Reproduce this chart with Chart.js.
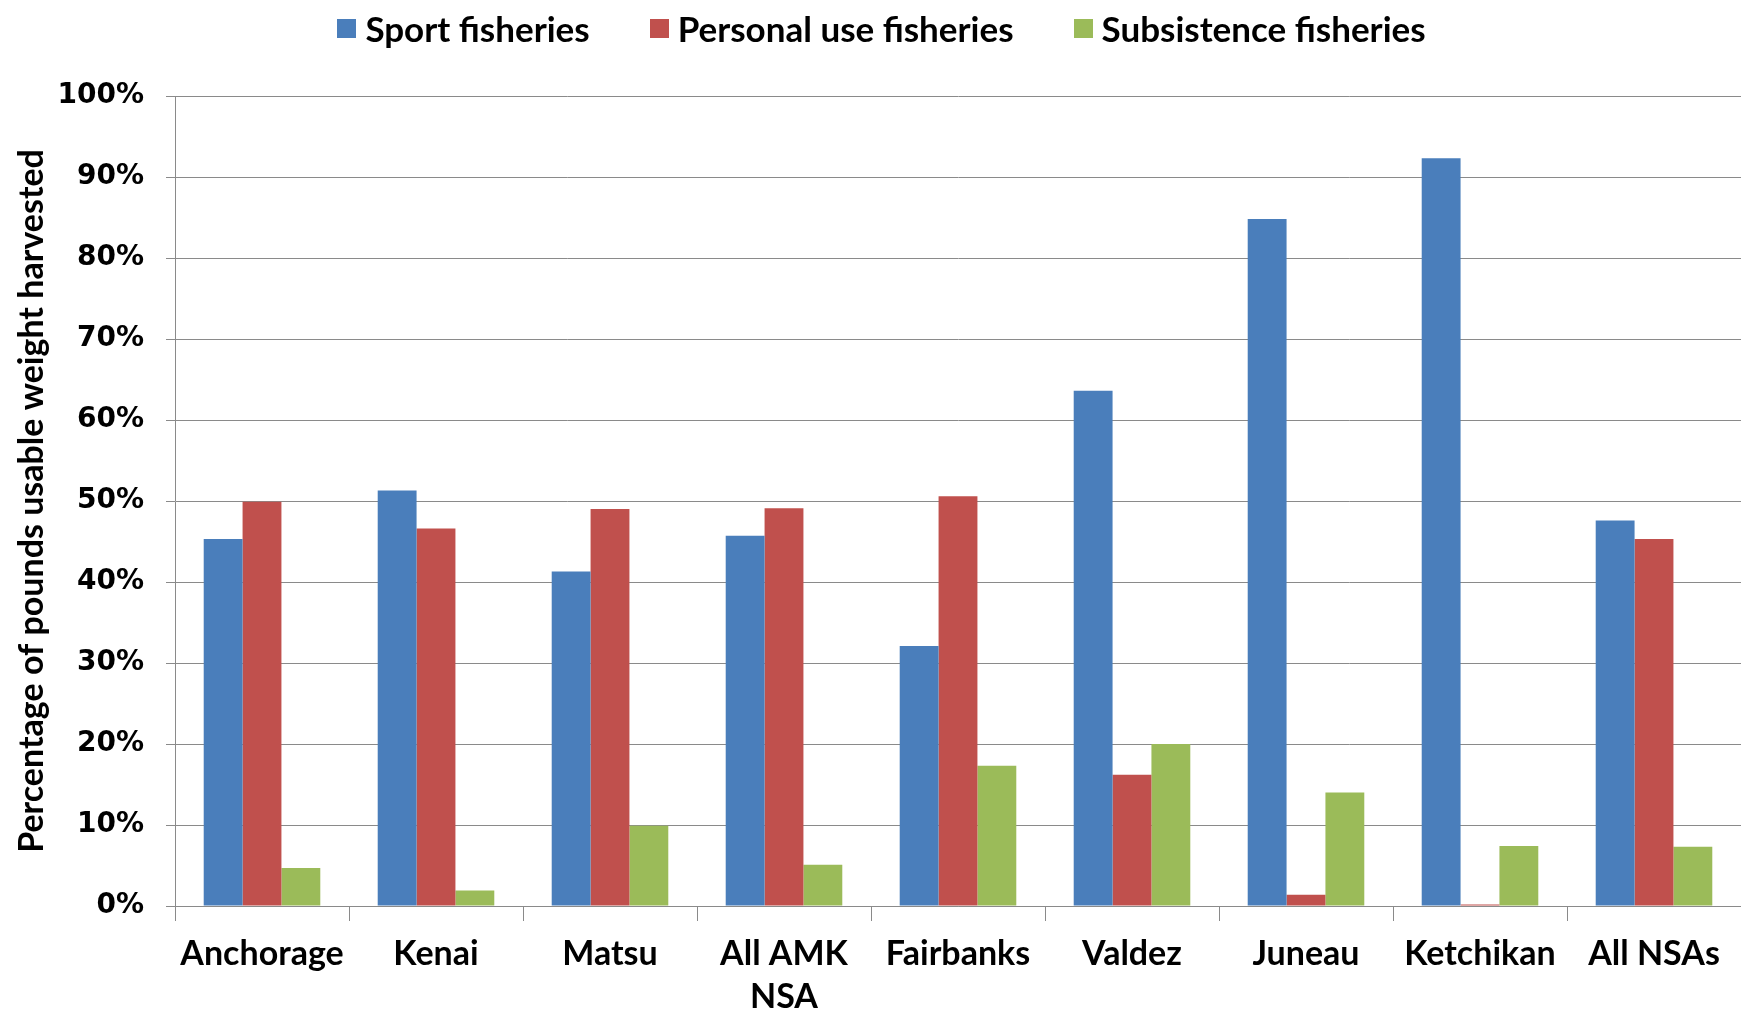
<!DOCTYPE html>
<html>
<head>
<meta charset="utf-8">
<script src="https://cdn.jsdelivr.net/npm/chart.js@4/dist/chart.umd.min.js"></script>
<style>
    html, body { margin: 0; padding: 0; background: #fff; }
    #wrap { position: relative; width: 1741px; height: 1009px; }
    #legend {
        position: absolute; left: 0; top: 8px; width: 1741px; height: 40px;
        display: flex; justify-content: center; align-items: center;
        padding-left: 22px; box-sizing: border-box;
        font-family: Lato, "Liberation Sans", sans-serif; font-weight: bold; font-size: 35px; color: #000;
    }
    .leg-item { display: flex; align-items: center; margin: 0 30px; }
    .leg-box { width: 19px; height: 19px; margin-right: 9px; }
</style>
</head>
<body>
<div id="wrap">
    <div id="legend"></div>
    <canvas id="fish-chart" width="1741" height="1009"></canvas>
</div>
<script>
const places = ['Anchorage', 'Kenai', 'Matsu', ['All AMK', 'NSA'], 'Fairbanks', 'Valdez', 'Juneau', 'Ketchikan', 'All NSAs'];
const sportPct = [45.3, 51.3, 41.3, 45.7, 32.1, 63.6, 84.8, 92.3, 47.6];
const personalPct = [49.9, 46.6, 49.0, 49.1, 50.6, 16.2, 1.4, 0.2, 45.3];
const subsistencePct = [4.7, 1.9, 9.9, 5.1, 17.3, 20.0, 14.0, 7.4, 7.3];

const labelFont = 'Lato, "Liberation Sans", sans-serif';
const gridGray = '#8a8a8a';

const ctx = document.getElementById('fish-chart').getContext('2d');
const chart = new Chart(ctx, {
    type: 'bar',
    data: {
        labels: places,
        datasets: [
            { label: 'Sport fisheries', data: sportPct, backgroundColor: '#4a7ebb' },
            { label: 'Personal use fisheries', data: personalPct, backgroundColor: '#c0504d' },
            { label: 'Subsistence fisheries', data: subsistencePct, backgroundColor: '#9bbb59' }
        ]
    },
    options: {
        responsive: false,
        animation: false,
        layout: { padding: { top: 96, left: 12, right: 0, bottom: 0 } },
        datasets: {
            bar: { categoryPercentage: 0.67, barPercentage: 1.0 }
        },
        scales: {
            x: {
                grid: {
                    display: true,
                    offset: true,
                    drawOnChartArea: false,
                    drawTicks: true,
                    tickLength: 15,
                    color: gridGray
                },
                border: { color: gridGray },
                ticks: {
                    color: '#000',
                    padding: 11,
                    maxRotation: 0,
                    autoSkip: false,
                    font: { family: labelFont, weight: 'bold', size: 34, lineHeight: 1.27 }
                },
                afterFit: scale => { scale.height = 103; }
            },
            y: {
                min: 0,
                max: 100,
                ticks: {
                    stepSize: 10,
                    color: '#000',
                    padding: 22,
                    callback: v => v + '%',
                    font: { family: '"DejaVu Sans", Verdana, sans-serif', weight: 'bold', size: 28 }
                },
                grid: { color: gridGray, tickLength: 9, lineWidth: 1 },
                border: { color: gridGray },
                title: {
                    display: true,
                    text: 'Percentage of pounds usable weight harvested',
                    color: '#000',
                    padding: { top: 0, bottom: 0 },
                    font: { family: labelFont, weight: 'bold', size: 34 }
                },
                afterFit: scale => { scale.width = 163; }
            }
        },
        plugins: {
            legend: { display: false },
            tooltip: { enabled: false }
        }
    }
});

// legend as html, built from the chart's own datasets
const legendDiv = document.getElementById('legend');
chart.data.datasets.forEach(ds => {
    const item = document.createElement('div');
    item.className = 'leg-item';
    item.innerHTML = `<span class="leg-box" style="background:${ds.backgroundColor}"></span><span>${ds.label}</span>`;
    legendDiv.appendChild(item);
});
</script>
</body>
</html>
